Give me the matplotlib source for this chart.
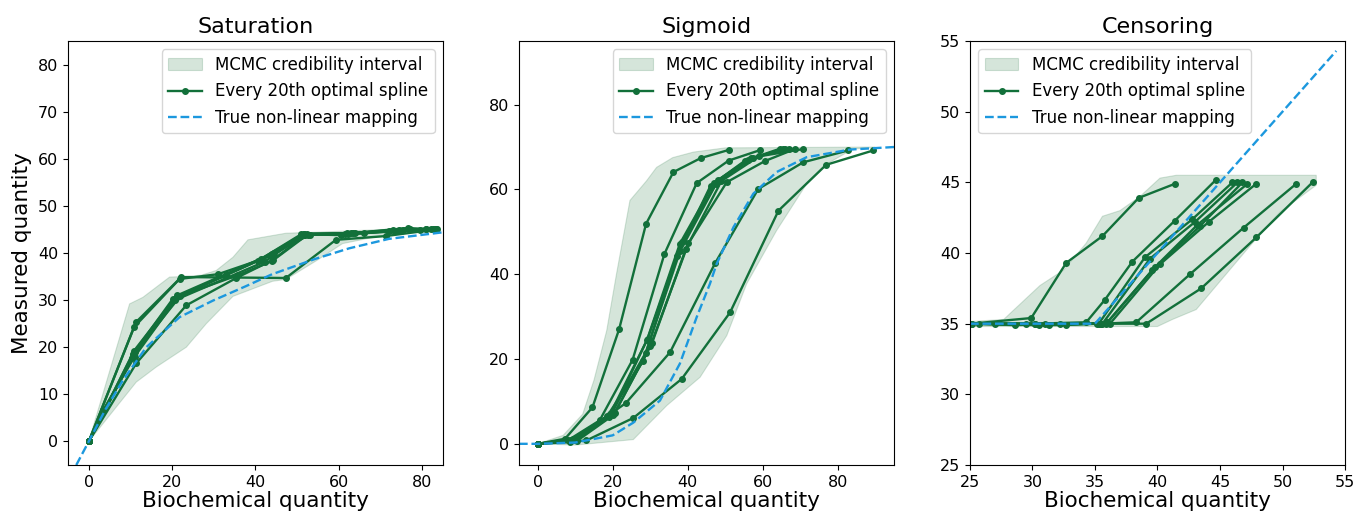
import numpy as np
import matplotlib
matplotlib.use("Agg")
from matplotlib import pyplot as plt

# colours
spline_col = '#12703a'
band_col = '#2f7d4a'
true_col = '#1c98de'

# ---------------- Saturation ----------------
sat_band_up_x = [0, 9.8, 13.0, 19.4, 23.0, 27.0, 30.6, 34.6, 38.2, 47.3, 60.0, 84.0]
sat_band_up_y = [0, 29.2, 30.6, 34.9, 35.0, 35.3, 36.3, 39.1, 42.8, 44.2, 44.6, 45.5]
sat_band_lo_x = [0, 11.4, 16.2, 23.4, 28.2, 34.6, 44.1, 47.3, 54.5, 60.9, 72.0, 84.0]
sat_band_lo_y = [0, 12.6, 15.8, 20.0, 25.0, 30.8, 34.0, 34.4, 38.3, 42.0, 44.0, 44.6]

sat_spl_x = [
    [0, 11.3, 22.2, 47.3, 59.3, 71.3, 83.3],
    [0, 10.9, 21.8, 31.0, 43.9, 51.7, 62.0, 74.5, 81.0],
    [0, 11.4, 23.4, 35.4, 44.1, 52.0, 63.0, 76.5, 83.0],
    [0, 10.6, 20.2, 41.4, 51.7, 62.1, 72.9, 80.9],
    [0, 10.9, 21.2, 43.9, 52.3, 63.5, 74.0, 82.0],
    [0, 3.4, 11.0, 21.5, 33.0, 44.5, 53.0, 66.0, 77.0],
    [0, 10.4, 20.7, 42.3, 51.5, 61.5, 73.5, 82.5],
    [0, 11.2, 22.0, 35.8, 44.0, 52.5, 64.0, 75.5, 83.5],
    [0, 10.7, 21.0, 40.5, 51.0, 60.5, 72.0, 79.5],
]
sat_spl_y = [
    [0, 25.3, 34.9, 34.7, 42.8, 43.6, 45.0],
    [0, 24.3, 34.5, 35.5, 39.4, 44.1, 44.2, 44.8, 45.1],
    [0, 16.6, 28.9, 34.7, 38.5, 43.8, 44.2, 45.3, 45.0],
    [0, 18.6, 30.3, 38.8, 44.1, 44.1, 44.9, 45.1],
    [0, 19.3, 31.0, 39.8, 44.0, 44.2, 44.7, 45.0],
    [0, 6.6, 18.0, 30.8, 35.4, 39.9, 43.9, 44.3, 45.0],
    [0, 17.8, 30.0, 38.2, 43.9, 44.0, 44.6, 45.0],
    [0, 19.0, 30.9, 35.3, 38.3, 43.9, 44.3, 44.8, 45.1],
    [0, 18.3, 30.5, 38.3, 44.0, 43.8, 44.6, 44.9],
]
sat_true_x = [-3, 0, 4, 8.2, 13.8, 21.8, 29.8, 37.8, 44.0, 54.5, 62.5, 72.0, 85.0]
sat_true_y = [-5, 0, 6.8, 13.0, 20.0, 26.4, 29.9, 33.0, 35.5, 38.8, 41.0, 43.0, 44.4]

# ---------------- Sigmoid ----------------
sig_band_up_x = [0, 6.8, 12.0, 15.0, 18.4, 21.0, 24.6, 29.0, 31.7, 36.0, 41.5, 50.0, 90.0]
sig_band_up_y = [0, 2.0, 7.0, 15.0, 26.7, 40.0, 57.4, 62.0, 65.2, 67.5, 68.8, 69.8, 70.0]
sig_band_lo_x = [0, 10.0, 25.5, 34.4, 43.3, 50.4, 55.7, 63.7, 71.7, 77.1, 84.0, 90.0]
sig_band_lo_y = [0, -0.3, 1.0, 9.0, 15.7, 25.5, 37.7, 50.3, 61.3, 66.0, 69.5, 70.0]

sig_spl_x = [
    [0, 7.3, 14.6, 21.7, 28.9, 36.2, 43.5, 50.9],
    [0, 8.0, 16.5, 25.3, 33.8, 42.4, 50.9, 59.4],
    [0, 8.6, 23.5, 35.3, 47.3, 58.8, 70.8, 82.8],
    [0, 13.0, 25.5, 38.4, 51.3, 64.2, 76.9, 89.5],
    [0, 9.0, 18.5, 28.2, 37.1, 46.1, 55.3, 64.6],
    [0, 9.5, 19.3, 29.1, 37.9, 47.0, 56.0, 65.5],
    [0, 10.0, 20.0, 29.3, 38.4, 48.2, 57.5, 67.0],
    [0, 10.5, 20.2, 30.0, 40.2, 50.4, 60.6, 68.5],
    [0, 9.8, 19.0, 28.8, 38.0, 47.5, 57.0, 66.0],
    [0, 10.2, 20.5, 30.5, 39.5, 49.0, 59.0, 70.7],
]
sig_spl_y = [
    [0, 1.2, 8.6, 27.0, 51.9, 64.1, 67.4, 69.3],
    [0, 0.8, 5.5, 19.8, 44.8, 61.5, 66.8, 69.3],
    [0, 0.4, 9.6, 21.6, 42.6, 60.1, 66.4, 69.2],
    [0, 0.8, 6.1, 15.3, 31.0, 55.0, 65.8, 69.2],
    [0, 1.0, 6.5, 19.6, 44.4, 60.9, 66.8, 69.6],
    [0, 1.1, 7.0, 24.4, 47.2, 61.5, 67.0, 69.6],
    [0, 0.9, 7.5, 24.8, 47.5, 62.3, 67.5, 69.6],
    [0, 0.7, 6.8, 23.0, 47.3, 61.7, 66.7, 69.5],
    [0, 0.8, 6.3, 21.5, 45.5, 61.2, 67.3, 69.5],
    [0, 1.0, 7.2, 23.8, 46.0, 62.0, 67.8, 69.5],
]
sig_true_x = [-5, 0, 10, 20, 25.5, 32.6, 37.9, 42.4, 45.9, 47.7, 52.2, 57.5, 63.7, 71.7, 83.3, 95]
sig_true_y = [0, 0, 0.3, 2.0, 5.0, 10.2, 18.9, 29.9, 37.7, 42.4, 51.1, 59.0, 64.1, 67.6, 69.4, 70.0]

# ---------------- Censoring ----------------
cen_band_up_x = [25, 27.7, 30.6, 32.5, 34.3, 35.6, 37.0, 38.6, 40.2, 41.5, 52.7]
cen_band_up_y = [35.15, 35.3, 37.7, 38.8, 40.7, 42.6, 43.0, 44.0, 45.3, 45.5, 45.5]
cen_band_lo_x = [25, 40.0, 41.2, 43.1, 47.4, 49.8, 52.7]
cen_band_lo_y = [34.8, 34.8, 35.3, 36.0, 40.5, 42.9, 44.8]

cen_spl_x = [
    [25.1, 29.9, 32.7, 35.6, 38.5, 41.4],
    [25.7, 30.2, 34.3, 35.8, 38.0, 41.4, 44.7],
    [25.0, 28.6, 32.2, 35.5, 38.3, 42.6, 46.9, 51.1],
    [25.0, 27.0, 31.3, 35.2, 39.1, 43.5, 47.9, 52.4],
    [25.0, 30.2, 35.3, 39.0, 42.8, 46.0],
    [25.2, 30.5, 35.6, 39.4, 43.0, 46.4],
    [25.0, 29.5, 35.9, 39.6, 43.4, 46.8],
    [25.1, 31.0, 36.2, 40.2, 44.1, 47.9],
    [25.0, 32.7, 36.0, 39.8, 43.2, 47.2],
]
cen_spl_y = [
    [35.0, 35.4, 39.3, 41.2, 43.9, 44.9],
    [35.0, 35.0, 35.1, 36.7, 39.4, 42.3, 45.2],
    [35.0, 34.9, 35.0, 35.0, 35.1, 38.5, 41.8, 44.9],
    [35.0, 35.0, 34.9, 35.0, 35.0, 37.5, 41.1, 45.0],
    [35.0, 35.0, 35.0, 39.7, 42.4, 45.0],
    [35.0, 34.9, 35.0, 39.6, 42.2, 45.0],
    [35.0, 35.0, 35.0, 38.8, 41.9, 45.0],
    [35.0, 35.0, 35.0, 39.2, 42.2, 44.9],
    [35.0, 34.9, 35.1, 39.0, 42.0, 44.9],
]
cen_true_x = [25, 35, 54.3]
cen_true_y = [35, 35, 54.3]


def draw_panel(ax, title, up_x, up_y, lo_x, lo_y, spl_x, spl_y, tx, ty):
    # credibility band as a polygon: upper edge then lower edge reversed
    px = list(up_x) + list(lo_x)[::-1]
    py = list(up_y) + list(lo_y)[::-1]
    ax.fill(px, py, color=band_col, alpha=0.2, lw=0.8,
            label='MCMC credibility interval')
    for i in range(len(spl_x)):
        ax.plot(spl_x[i], spl_y[i], '-o', color=spline_col, lw=1.7, ms=4,
                label='Every 20th optimal spline' if i == 0 else None)
    ax.plot(tx, ty, '--', color=true_col, lw=1.7, label='True non-linear mapping')
    ax.set_title(title, fontsize=16)
    ax.set_xlabel('Biochemical quantity', fontsize=15.5, labelpad=1)
    ax.tick_params(labelsize=11.5)


fig = plt.figure(figsize=(13.56, 5.16), dpi=100)
ax1 = fig.add_axes([0.0501, 0.0988, 0.2766, 0.8217])
ax2 = fig.add_axes([0.3827, 0.0988, 0.2766, 0.8217])
ax3 = fig.add_axes([0.7153, 0.0988, 0.2766, 0.8217])

draw_panel(ax1, 'Saturation', sat_band_up_x, sat_band_up_y, sat_band_lo_x, sat_band_lo_y,
           sat_spl_x, sat_spl_y, sat_true_x, sat_true_y)
ax1.set_xlim(-5, 85)
ax1.set_ylim(-5, 85)
ax1.set_xticks([0, 20, 40, 60, 80])
ax1.set_yticks(np.arange(0, 81, 10))
ax1.set_ylabel('Measured quantity', fontsize=15.5)
ax1.legend(loc='upper right', fontsize=12)

draw_panel(ax2, 'Sigmoid', sig_band_up_x, sig_band_up_y, sig_band_lo_x, sig_band_lo_y,
           sig_spl_x, sig_spl_y, sig_true_x, sig_true_y)
ax2.set_xlim(-5, 95)
ax2.set_ylim(-5, 95)
ax2.set_xticks([0, 20, 40, 60, 80])
ax2.set_yticks([0, 20, 40, 60, 80])
ax2.legend(loc='upper right', fontsize=12)

draw_panel(ax3, 'Censoring', cen_band_up_x, cen_band_up_y, cen_band_lo_x, cen_band_lo_y,
           cen_spl_x, cen_spl_y, cen_true_x, cen_true_y)
ax3.set_xlim(25, 55)
ax3.set_ylim(25, 55)
ax3.set_xticks(np.arange(25, 56, 5))
ax3.set_yticks(np.arange(25, 56, 5))
ax3.legend(loc='upper left', fontsize=12)

fig.savefig('out.png', dpi=100)
